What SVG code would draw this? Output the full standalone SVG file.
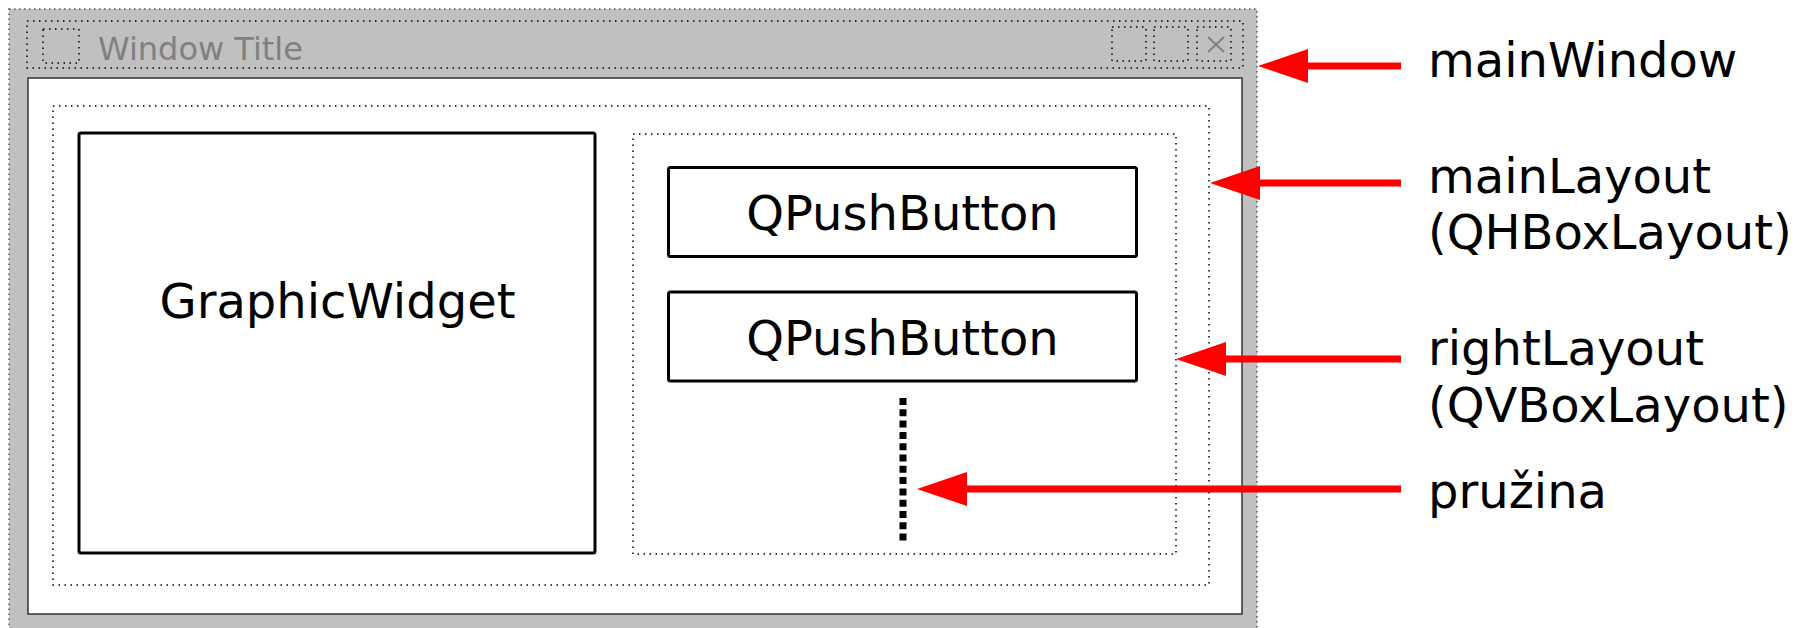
<svg xmlns="http://www.w3.org/2000/svg" width="1804" height="628" viewBox="0 0 1804 628">
<style>
.dot{fill:none;stroke:#000;stroke-width:1.5;stroke-dasharray:1.5 4.5}
.box{fill:#fff;stroke:#000;stroke-width:3}
.wt{font-family:"DejaVu Sans",sans-serif;font-size:48px;fill:#000;text-anchor:middle}
.lbl{font-family:"DejaVu Sans",sans-serif;font-size:48px;fill:#000}
.arr{stroke:#f00;stroke-width:7;fill:none}
</style>
<rect width="1804" height="628" fill="#fff"/>
<g id="mainWindow">
<rect x="9" y="9" width="1248" height="630" fill="#c0c0c0" stroke="#555" stroke-width="1.5" stroke-dasharray="1.5 3.5"/>
<rect class="dot" x="27" y="21" width="1216" height="47"/>
<rect class="dot" x="43" y="29" width="36" height="34"/>
<text x="98" y="60" font-family="DejaVu Sans, sans-serif" font-size="32" fill="#808080">Window Title</text>
<rect class="dot" x="1112" y="27" width="34" height="34"/>
<rect class="dot" x="1154" y="27" width="34" height="34"/>
<rect class="dot" x="1197" y="27" width="34" height="34"/>
<path d="M1208,37 L1224,52 M1224,37 L1208,52" stroke="#808080" stroke-width="2"/>
<rect x="28" y="78" width="1214" height="536" fill="#fff" stroke="#333" stroke-width="1.5"/>
</g>
<g id="mainLayout">
<rect class="dot" x="53" y="106" width="1156" height="479"/>
</g>
<g id="graphicWidget">
<rect class="box" x="79" y="133" width="516" height="420" rx="2"/>
<text class="wt" x="337.5" y="318" font-size="50">GraphicWidget</text>
</g>
<g id="rightLayout">
<rect class="dot" x="633" y="134" width="543" height="420"/>
</g>
<g id="button1">
<rect class="box" x="668.5" y="167.5" width="468" height="89" rx="2"/>
<text class="wt" x="902.5" y="230">QPushButton</text>
</g>
<g id="button2">
<rect class="box" x="668.5" y="292" width="468" height="89" rx="2"/>
<text class="wt" x="902.5" y="355">QPushButton</text>
</g>
<g id="spring">
<line x1="903" y1="398" x2="903" y2="543" stroke="#000" stroke-width="7" stroke-dasharray="7 4.3"/>
</g>
<g id="connectors">
<line class="arr" x1="1401" y1="66" x2="1306" y2="66"/>
<path d="M1258,66 L1308,49 L1308,83 Z" fill="#f00"/>
<line class="arr" x1="1401" y1="183" x2="1258" y2="183"/>
<path d="M1210,183 L1260,166 L1260,200 Z" fill="#f00"/>
<line class="arr" x1="1401" y1="359" x2="1224" y2="359"/>
<path d="M1176,359 L1226,342 L1226,376 Z" fill="#f00"/>
<line class="arr" x1="1401" y1="489" x2="965" y2="489"/>
<path d="M917,489 L967,472 L967,506 Z" fill="#f00"/>
</g>
<g id="labels">
<text class="lbl" x="1428" y="77">mainWindow</text>
<text class="lbl" x="1428" y="193">mainLayout</text>
<text class="lbl" x="1428" y="249">(QHBoxLayout)</text>
<text class="lbl" x="1428" y="365">rightLayout</text>
<text class="lbl" x="1428" y="422">(QVBoxLayout)</text>
<text class="lbl" x="1428" y="508">pružina</text>
</g>
</svg>
